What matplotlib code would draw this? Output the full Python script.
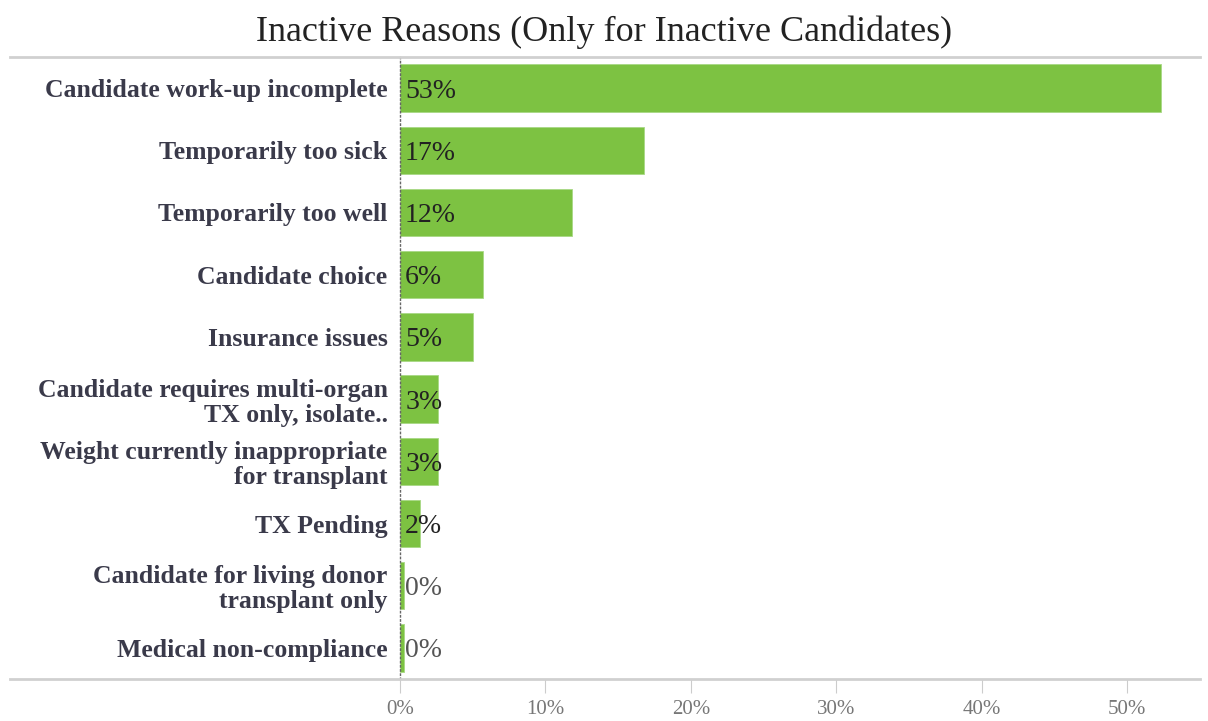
import matplotlib
matplotlib.use("Agg")
import matplotlib.pyplot as plt
from matplotlib.lines import Line2D

categories = [
    "Candidate work-up incomplete",
    "Temporarily too sick",
    "Temporarily too well",
    "Candidate choice",
    "Insurance issues",
    "Candidate requires multi-organ\nTX only, isolate..",
    "Weight currently inappropriate\nfor transplant",
    "TX Pending",
    "Candidate for living donor\ntransplant only",
    "Medical non-compliance",
]
values = [52.3, 16.8, 11.8, 5.7, 5.0, 2.6, 2.6, 1.4, 0.3, 0.3]
value_labels = ["53%", "17%", "12%", "6%", "5%", "3%", "3%", "2%", "0%", "0%"]
xticks = [0, 10, 20, 30, 40, 50]
xtick_labels = ["0%", "10%", "20%", "30%", "40%", "50%"]

W, H = 1208, 721
fig = plt.figure(figsize=(W / 100, H / 100), dpi=100)
ax = fig.add_axes([400 / W, 1 - 679 / H, 800 / W, (679 - 57) / H])

serif = ["Liberation Serif", "DejaVu Serif"]
bar_color = "#7DC242"
ypos = list(range(len(categories)))
ax.barh(ypos, values, height=0.76, color=bar_color, edgecolor="#a8d885", linewidth=0.6)
ax.set_ylim(len(categories) - 0.5, -0.5)
ax.set_xlim(0, 55)

for y, v, lab in zip(ypos, values, value_labels):
    ax.text(0.35, y, lab, va="center_baseline", ha="left", fontsize=20, family=serif,
            color="#222222" if v > 1 else "#555555")

ax.set_yticks(ypos)
ax.set_yticklabels(categories, family=serif, fontsize=18.5, fontweight="bold",
                   color="#3a3a4a", linespacing=1.12)
ax.tick_params(axis="y", length=0, pad=9)

ax.set_xticks(xticks)
ax.set_xticklabels(xtick_labels, family=serif, fontsize=15, color="#777777")
ax.tick_params(axis="x", length=10, width=0.8, color="#cccccc", pad=5)

for s in ["top", "right", "bottom"]:
    ax.spines[s].set_visible(False)
ax.spines["left"].set_linestyle((0, (1, 2)))
ax.spines["left"].set_color("#666666")
ax.spines["left"].set_linewidth(1.0)

for yy in [57, 679]:
    fig.add_artist(Line2D([10 / W, 1200 / W], [1 - yy / H, 1 - yy / H],
                          color="#d0d0d0", linewidth=2))

fig.text(604 / W, 1 - 28 / H, "Inactive Reasons (Only for Inactive Candidates)",
         ha="center", va="center_baseline", fontsize=26, family=serif, color="#222222")

fig.savefig("out.png", dpi=100, facecolor="white")
